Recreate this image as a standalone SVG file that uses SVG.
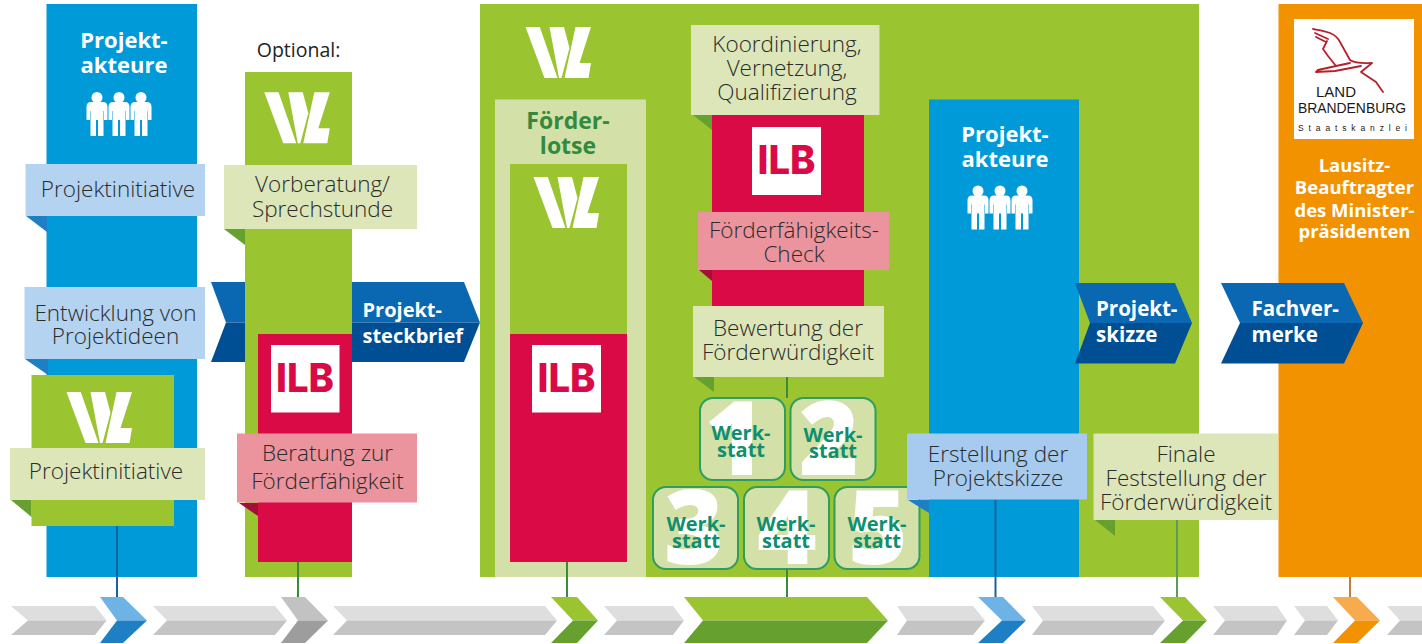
<svg xmlns="http://www.w3.org/2000/svg" xmlns:xlink="http://www.w3.org/1999/xlink" width="1422" height="644" viewBox="0 0 1422 644">
<style>
text{font-family:"Open Sans","Liberation Sans",sans-serif}
.l{font-size:22.500px;font-weight:300;fill:#2b2b2b;text-anchor:middle}
.b{font-size:22px;font-weight:700;fill:#fff;text-anchor:middle}
.a{font-size:20.500px;font-weight:700;fill:#fff}
.w{font-size:20px;font-weight:700;fill:#0f8f6e;text-anchor:middle}
.d{font-size:102px;font-weight:800;fill:#fff;text-anchor:middle}
.ilb{font-family:Inter,"Open Sans",sans-serif;font-size:39px;font-weight:800;fill:#d90a45;text-anchor:middle}
.blue{fill:#009ad9}.green{fill:#9bc431}.red{fill:#d90a45}.orange{fill:#f39200}
.lg{fill:#dce6b8}.lb{fill:#b3d3f0}.lp{fill:#ec949e}.pale{fill:#d3e1a8}
.fb{fill:#1f7fc4}.fg{fill:#66a130}.fr{fill:#a30f38}
.at{fill:#0a68b2}.ab{fill:#004f95}
.gt{fill:#dedede}.gb{fill:#c4c4c4}
.ws{fill:#d3e1a8;stroke:#2e9d5f;stroke-width:2}
.c{fill:none;stroke-width:2}
</style>
<defs>
<g id="wl" fill="#fff">
<polygon points="0,0 14.300,0 32,51 19,51"/>
<polygon points="24,0 38.500,0 44,21 36,51 33.500,51"/>
<polygon points="50,0 65.500,0 54,36 65.500,36 63,51 39,51"/>
</g>
<g id="person" fill="#fff">
<circle cx="0" cy="5.500" r="5.500"/>
<path d="M-6,10H6Q10.500,10 10.500,15V28H7V19H6.500V44H1V28H-1V44H-6.500V19H-7V28H-10.500V15Q-10.500,10 -6,10Z"/>
</g>
<g id="people"><use href="#person" x="-22"/><use href="#person"/><use href="#person" x="22"/></g>
</defs>

<g id="arrow-steckbrief-back">
<polygon class="at" points="211,282 464,282 480,322.500 226,322.500"/>
<polygon class="ab" points="226,322.500 480,322.500 464,362 211,362"/>
</g>

<g id="node-akteure-1">
<rect class="blue" x="46.500" y="4" width="150.500" height="573"/>
<text class="b"><tspan x="124" y="48">Projekt-</tspan><tspan x="124" y="72.700">akteure</tspan></text>
<use href="#people" x="119" y="92"/>
</g>
<g id="node-projektinitiative-1">
<polygon class="fb" points="26,216 47,216 47,232"/>
<rect class="lb" x="25.500" y="164" width="179.500" height="52"/>
<text class="l" x="118" y="196.700">Projektinitiative</text>
</g>
<g id="node-entwicklung">
<polygon class="fb" points="25,359 48,359 48,375"/>
<rect class="lb" x="24.500" y="287" width="180.500" height="72"/>
<text class="l"><tspan x="115.500" y="320.700">Entwicklung von</tspan><tspan x="115.500" y="344.300">Projektideen</tspan></text>
</g>
<g id="node-wl-1">
<rect class="green" x="31.500" y="375" width="142.500" height="151"/>
<use href="#wl" x="66.500" y="392"/>
<polygon class="fg" points="11,500 31.500,500 31.500,517"/>
<rect class="lg" x="10" y="448" width="195" height="52"/>
<text class="l" x="106" y="479.300">Projektinitiative</text>
</g>

<g id="node-optional">
<text x="298.500" y="56.700" font-size="19.500" fill="#222" text-anchor="middle">Optional:</text>
<rect class="green" x="245" y="72" width="107" height="505"/>
<use href="#wl" x="264.300" y="92.300"/>
<polygon class="fg" points="224,229 245,229 245,245"/>
<rect class="lg" x="224" y="165" width="193" height="64"/>
<text class="l"><tspan x="322.500" y="191.700">Vorberatung/</tspan><tspan x="322.500" y="216.700">Sprechstunde</tspan></text>
<rect class="red" x="258" y="334" width="94" height="228"/>
<rect fill="#fff" x="271" y="345" width="68.500" height="67.500"/>
<text class="ilb" x="305" y="391.700" textLength="58" lengthAdjust="spacingAndGlyphs">ILB</text>
<polygon class="fr" points="239,503 258,503 258,516"/>
<rect class="lp" x="237" y="433.500" width="180" height="69"/>
<text class="l"><tspan x="327.500" y="460.700">Beratung zur</tspan><tspan x="327.500" y="489.300">Förderfähigkeit</tspan></text>
</g>
<g id="node-steckbrief-label">
<text class="a" style="font-size:20px"><tspan x="362.500" y="316.700">Projekt-</tspan><tspan x="362.500" y="343.300">steckbrief</tspan></text>
</g>

<g id="node-foerder-main">
<rect class="green" x="480" y="4" width="719" height="573"/>
<use href="#wl" x="525.500" y="27"/>
</g>
<g id="node-foerderlotse">
<rect class="pale" x="495" y="99.500" width="151" height="477.500"/>
<text class="b" style="fill:#338a3e;font-size:23px"><tspan x="568" y="129.300">Förder-</tspan><tspan x="568" y="154.300">lotse</tspan></text>
<rect class="green" x="510" y="164" width="117" height="170"/>
<use href="#wl" x="533.500" y="177"/>
<rect class="red" x="510" y="334" width="117" height="228"/>
<rect fill="#fff" x="532" y="345" width="69" height="67.500"/>
<text class="ilb" x="566.500" y="391.700" textLength="58" lengthAdjust="spacingAndGlyphs">ILB</text>
</g>
<g id="node-ilb-check">
<rect class="red" x="712" y="115" width="152" height="191"/>
<rect fill="#fff" x="752" y="127" width="69" height="68"/>
<text class="ilb" x="786.500" y="174" textLength="58" lengthAdjust="spacingAndGlyphs">ILB</text>
<polygon class="fg" points="693,115 712,115 712,130"/>
<rect class="lg" x="691" y="25" width="188.500" height="90"/>
<text class="l"><tspan x="787" y="51.700">Koordinierung,</tspan><tspan x="787" y="76">Vernetzung,</tspan><tspan x="787" y="100">Qualifizierung</tspan></text>
<polygon class="fr" points="699,270 712,270 712,281"/>
<rect class="lp" x="698" y="212" width="191" height="58"/>
<text class="l"><tspan x="794" y="238.300">Förderfähigkeits-</tspan><tspan x="794" y="262.300">Check</tspan></text>
</g>
<g id="node-bewertung">
<polygon class="fg" points="694,377 714,377 714,392"/>
<rect class="lg" x="693" y="306" width="191" height="71"/>
<text class="l"><tspan x="788" y="336">Bewertung der</tspan><tspan x="788" y="360">Förderwürdigkeit</tspan></text>
</g>
<g id="node-werkstatt-1"><rect class="ws" x="700" y="398" width="85" height="82" rx="13"/><text class="d" x="735" y="475">1</text><text class="w"><tspan x="741" y="440">Werk-</tspan><tspan x="741" y="456.700">statt</tspan></text></g>
<g id="node-werkstatt-2"><rect class="ws" x="790.500" y="398" width="85" height="82" rx="13"/><text class="d" x="829" y="475">2</text><text class="w"><tspan x="833" y="441.700">Werk-</tspan><tspan x="833" y="458.300">statt</tspan></text></g>
<g id="node-werkstatt-3"><rect class="ws" x="653" y="487" width="85" height="82" rx="13"/><text class="d" x="694" y="564">3</text><text class="w"><tspan x="696" y="530.700">Werk-</tspan><tspan x="696" y="548.300">statt</tspan></text></g>
<g id="node-werkstatt-4"><rect class="ws" x="744" y="487" width="85" height="82" rx="13"/><text class="d" x="787" y="564">4</text><text class="w"><tspan x="786" y="530.700">Werk-</tspan><tspan x="786" y="548.300">statt</tspan></text></g>
<g id="node-werkstatt-5"><rect class="ws" x="834.500" y="487" width="85" height="82" rx="13"/><text class="d" x="878" y="564">5</text><text class="w"><tspan x="877" y="530.700">Werk-</tspan><tspan x="877" y="548.300">statt</tspan></text></g>

<g id="node-akteure-2">
<rect class="blue" x="929" y="99.500" width="150" height="477.500"/>
<text class="b"><tspan x="1005" y="141.700">Projekt-</tspan><tspan x="1005" y="166.700">akteure</tspan></text>
<use href="#people" x="1000" y="185.500"/>
</g>
<g id="node-erstellung">
<polygon class="fb" points="908,500 929,500 929,513"/>
<rect class="lb" style="fill:#a6cbee" x="907" y="433.500" width="180" height="66"/>
<text class="l"><tspan x="998" y="461.700">Erstellung der</tspan><tspan x="998" y="485.700">Projektskizze</tspan></text>
</g>

<g id="node-lausitz">
<rect class="orange" x="1278.500" y="4" width="143.500" height="573"/>
<rect fill="#fff" x="1294" y="19" width="120" height="120"/>
<path fill="none" stroke="#b5202a" stroke-width="1.800" stroke-linejoin="round" stroke-linecap="round" d="M1313,29C1324,31 1335,32 1340,42L1350,60C1356,64 1365,63 1372,63L1361,72L1376,82L1383,92M1315,33L1328,39M1316,37L1326,42M1327,41L1323,49L1328,56L1336,66L1350,63M1336,66L1318,70L1316,72L1335,71L1361,66"/>
<g font-weight="400" fill="#1a1a1a">
<text x="1336" y="96.700" font-size="15" textLength="40" lengthAdjust="spacingAndGlyphs" text-anchor="middle" style="font-family:'Liberation Sans',sans-serif">LAND</text>
<text x="1298" y="112.700" font-size="15" textLength="108" lengthAdjust="spacingAndGlyphs" style="font-family:'Liberation Sans',sans-serif">BRANDENBURG</text>
<text x="1298" y="130.700" font-size="8.500" textLength="109" style="font-family:'Liberation Sans',sans-serif">Staatskanzlei</text>
</g>
<text class="b" style="font-size:18.500px"><tspan x="1354.500" y="171.700">Lausitz-</tspan><tspan x="1354.500" y="194">Beauftragter</tspan><tspan x="1354.500" y="216.700">des Minister-</tspan><tspan x="1354.500" y="238.300">präsidenten</tspan></text>
</g>
<g id="node-finale">
<polygon class="fg" points="1095,520 1115,520 1115,536"/>
<rect class="lg" x="1093.500" y="433.500" width="184.500" height="86.500"/>
<text class="l"><tspan x="1186" y="461.700">Finale</tspan><tspan x="1186" y="485.700">Feststellung der</tspan><tspan x="1186" y="510">Förderwürdigkeit</tspan></text>
</g>
<g id="node-skizze">
<polygon class="at" points="1075,283 1175,283 1192,323 1090,323"/>
<polygon class="ab" points="1090,323 1192,323 1175,363.500 1075,363.500"/>
<text class="a"><tspan x="1096" y="315.700">Projekt-</tspan><tspan x="1096" y="341.700">skizze</tspan></text>
</g>
<g id="node-fachvermerke">
<polygon class="at" points="1221,283 1344,283 1363,323 1240,323"/>
<polygon class="ab" points="1240,323 1363,323 1344,363.500 1221,363.500"/>
<text class="a"><tspan x="1251.500" y="315.700">Fachver-</tspan><tspan x="1251.500" y="341.700">merke</tspan></text>
</g>

<g id="connectors">
<line class="c" x1="117" y1="526" x2="117" y2="597" stroke="#16639f"/>
<line class="c" x1="298" y1="562" x2="298" y2="597" stroke="#3a8b3a"/>
<line class="c" x1="567" y1="562" x2="567" y2="597" stroke="#3a8b3a"/>
<line class="c" x1="787" y1="377" x2="787" y2="398" stroke="#3a8b3a"/>
<line class="c" x1="787" y1="569" x2="787" y2="597" stroke="#3a8b3a"/>
<line class="c" x1="995.500" y1="500" x2="995.500" y2="597" stroke="#16639f"/>
<line class="c" x1="1177" y1="520" x2="1177" y2="597" stroke="#5f9a58"/>
<line class="c" x1="1350" y1="577" x2="1350" y2="597" stroke="#c97a3a"/>
</g>

<g id="timeline">
<g id="tl-grey-1"><polygon class="gt" points="11,606 95,606 106.500,620.500 28,620.500"/><polygon class="gb" points="28,620.500 106.500,620.500 95,635 11,635"/></g>
<g id="tl-blue-1"><polygon points="100,597 123,597 147,620.500 117,620.500" fill="#6db3e6"/><polygon points="117,620.500 147,620.500 123,643 100,643" class="fb"/></g>
<g id="tl-grey-2"><polygon class="gt" points="153,606 275,606 287,620.500 167,620.500"/><polygon class="gb" points="167,620.500 287,620.500 275,635 153,635"/></g>
<g id="tl-grey-chevron"><polygon points="281,597 305,597 328,620.500 298,620.500" fill="#c2c2c2"/><polygon points="298,620.500 328,620.500 305,643 281,643" fill="#9d9d9d"/></g>
<g id="tl-grey-3"><polygon class="gt" points="333,606 545,606 557,620.500 347,620.500"/><polygon class="gb" points="347,620.500 557,620.500 545,635 333,635"/></g>
<g id="tl-green-1"><polygon points="551,597 577,597 598,620.500 573,620.500" class="green"/><polygon points="573,620.500 598,620.500 577,643 551,643" class="fg"/></g>
<g id="tl-grey-4"><polygon class="gt" points="604,606 673,606 684,620.500 617,620.500"/><polygon class="gb" points="617,620.500 684,620.500 673,635 604,635"/></g>
<g id="tl-green-big"><polygon points="684,597 867,597 888,620.500 703,620.500" class="green"/><polygon points="703,620.500 888,620.500 867,643 684,643" class="fg"/></g>
<g id="tl-grey-5"><polygon class="gt" points="897,606 973,606 985,620.500 907,620.500"/><polygon class="gb" points="907,620.500 985,620.500 973,635 897,635"/></g>
<g id="tl-blue-2"><polygon points="978,597 1003,597 1026,620.500 1002,620.500" fill="#6db3e6"/><polygon points="1002,620.500 1026,620.500 1003,643 978,643" class="fb"/></g>
<g id="tl-grey-6"><polygon class="gt" points="1032,606 1153,606 1165,620.500 1043,620.500"/><polygon class="gb" points="1043,620.500 1165,620.500 1153,635 1032,635"/></g>
<g id="tl-green-2"><polygon points="1160,597 1185,597 1207,620.500 1183,620.500" class="green"/><polygon points="1183,620.500 1207,620.500 1185,643 1160,643" class="fg"/></g>
<g id="tl-grey-7"><polygon class="gt" points="1213,606 1277,606 1287,620.500 1225,620.500"/><polygon class="gb" points="1225,620.500 1287,620.500 1277,635 1213,635"/></g>
<g id="tl-grey-8"><polygon class="gt" points="1294,606 1327,606 1338,620.500 1305,620.500"/><polygon class="gb" points="1305,620.500 1338,620.500 1327,635 1294,635"/></g>
<g id="tl-orange"><polygon points="1333,597 1357,597 1380,620.500 1355,620.500" fill="#f7ab4c"/><polygon points="1355,620.500 1380,620.500 1357,643 1333,643" class="orange"/></g>
<g id="tl-grey-9"><polygon class="gt" points="1387,606 1422,606 1422,620.500 1400,620.500"/><polygon class="gb" points="1400,620.500 1422,620.500 1422,635 1387,635"/></g>
</g>
</svg>
